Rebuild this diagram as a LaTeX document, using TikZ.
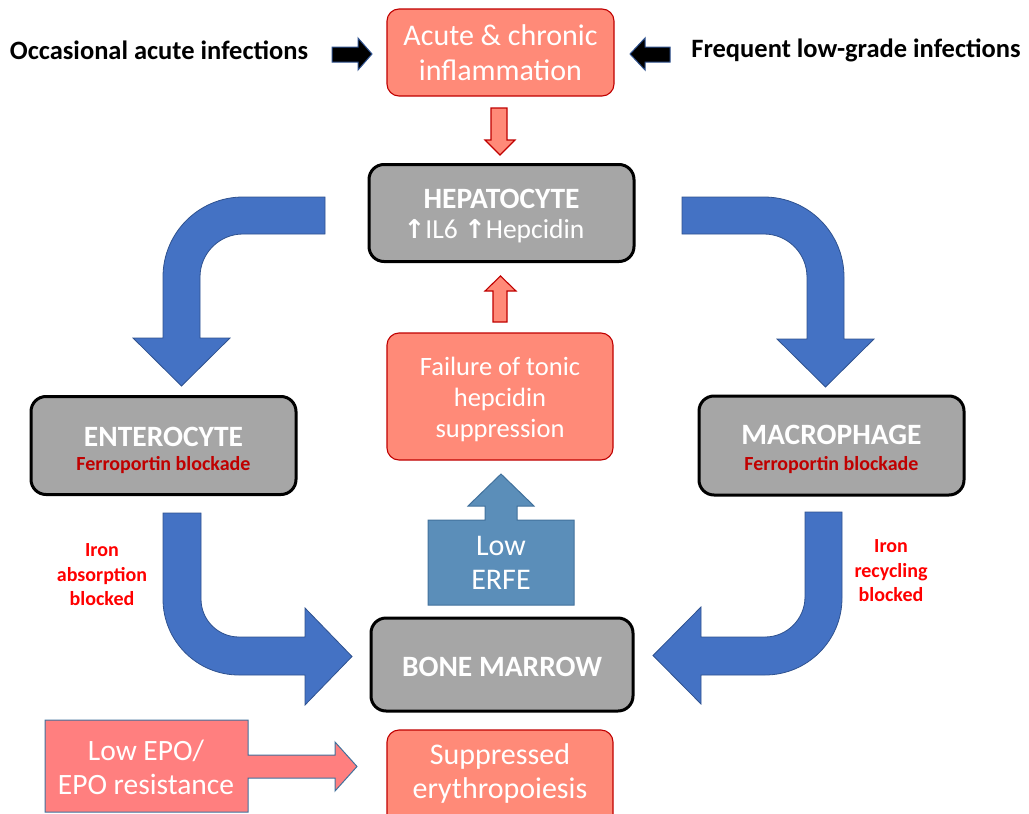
\documentclass[tikz,border=0pt]{standalone}
\usepackage{fontspec}
\setmainfont{Carlito}
\newfontfamily\djv{DejaVu Sans}
\definecolor{salmon}{HTML}{FF8A78}
\definecolor{salmonedge}{HTML}{C00000}
\definecolor{pinkfill}{HTML}{FF7F7F}
\definecolor{grayfill}{HTML}{A6A6A6}
\definecolor{bluefill}{HTML}{4472C4}
\definecolor{blueedge}{HTML}{2F528F}
\definecolor{steelfill}{HTML}{5B8EB9}
\definecolor{steeledge}{HTML}{41719C}
\definecolor{darkred}{HTML}{C00000}
\definecolor{brightred}{HTML}{FF0000}
\tikzset{
  salmonbox/.style={rounded corners=12pt, fill=salmon, draw=salmonedge, line width=1.1pt,
    text=white, align=center, font=\fontsize{30}{35}\selectfont, inner sep=0pt},
  graybox/.style={rounded corners=15pt, fill=grayfill, draw=black, line width=3pt,
    text=white, align=center, inner sep=0pt},
  bigarrow/.style={fill=bluefill, draw=blueedge, line width=0.8pt},
  blackarrow/.style={fill=black, draw=blueedge, line width=1pt},
  redarrow/.style={fill=salmon, draw=salmonedge, line width=1.1pt},
  sidelabel/.style={font=\bfseries\fontsize{26.5}{30}\selectfont, text=black},
  ironlabel/.style={font=\bfseries\fontsize{20}{24.5}\selectfont, text=brightred, align=center},
  subtitle/.style={font=\bfseries\fontsize{20}{24}\selectfont, text=darkred},
  title/.style={font=\bfseries\fontsize{29.5}{34}\selectfont, text=white},
  whitetext/.style={text=white, align=center, font=\fontsize{30}{34}\selectfont}
}
\begin{document}
\begin{tikzpicture}[x=1pt,y=-1pt]
\useasboundingbox (0,0) rectangle (1029,814);
\clip (0,0) rectangle (1029,814);

% top row
\node[salmonbox, minimum width=227pt, minimum height=87pt] (inflam) at (500.5,52.5)
  {Acute \& chronic\\inflammation};
\node[sidelabel] (occ) at (159,50) {Occasional acute infections};
\node[sidelabel] (freq) at (856,50) {Frequent low-grade infections};
\draw[blackarrow] (332,47) -- (358,47) -- (358,38) -- (372,54) -- (358,70) -- (358,62) -- (332,62) -- cycle;
\draw[blackarrow] (670,47) -- (645,47) -- (645,38) -- (630,54) -- (645,70) -- (645,62) -- (670,62) -- cycle;

% red down arrow
\draw[redarrow] (491,108) -- (507,108) -- (507,140) -- (515,140) -- (500,155) -- (485,140) -- (491,140) -- cycle;

% hepatocyte
\node[graybox, minimum width=265pt, minimum height=97pt] (hep) at (501.5,213) {};
\node[title] (hept) at (501.5,199) {HEPATOCYTE};
\node[text=white, font=\fontsize{27.5}{32}\selectfont] (hepl) at (494,231)
  {{\djv\bfseries\fontsize{26}{32}\selectfont ↑}IL6 {\djv\bfseries\fontsize{26}{32}\selectfont ↑}Hepcidin};

% red up arrow
\draw[redarrow] (493,322) -- (507,322) -- (507,291) -- (516,291) -- (500.5,276) -- (485,291) -- (493,291) -- cycle;

% failure box
\node[salmonbox, minimum width=226pt, minimum height=127pt] (fail) at (500,396.5) {};
\node[whitetext, font=\fontsize{26.5}{31}\selectfont] (failt) at (500,399)
  {Failure of tonic\\hepcidin\\suppression};

% ERFE
\draw[fill=steelfill, draw=steeledge, line width=1pt] (428,605) -- (428,520) -- (485,520) -- (485,506) -- (468,506) -- (501,474) -- (534,506) -- (517,506) -- (517,520) -- (574,520) -- (574,605) -- cycle;
\node[whitetext] (erfe) at (501,563) {Low\\ERFE};

% enterocyte, macrophage
\node[graybox, minimum width=265pt, minimum height=98pt] (ent) at (163.5,445.5) {};
\node[title] (entt) at (163.5,437) {ENTEROCYTE};
\node[subtitle] (ents) at (163.5,465) {Ferroportin blockade};
\node[graybox, minimum width=265pt, minimum height=99pt] (mac) at (831.5,445.5) {};
\node[title] (mact) at (831.5,435) {MACROPHAGE};
\node[subtitle] (macs) at (831.5,465) {Ferroportin blockade};

\node[ironlabel] (ironabs) at (102,575) {Iron\\absorption\\blocked};
\node[ironlabel] (ironrec) at (891,571) {Iron\\recycling\\blocked};

% bone marrow
\node[graybox, minimum width=262pt, minimum height=93pt] (bm) at (502,664.5) {};
\node[title] (bmt) at (502,667) {BONE MARROW};

% suppressed
\node[salmonbox, minimum width=226pt, minimum height=100pt] (supp) at (500,780) {};
\node[whitetext] (suppt) at (500,773) {Suppressed\\erythropoiesis};

% low EPO
\draw[fill=pinkfill, draw=steeledge, line width=1pt] (45,720) -- (248,720) -- (248,755) -- (335,755) -- (335,742) -- (357,766.5) -- (335,791) -- (335,778) -- (248,778) -- (248,812) -- (45,812) -- cycle;
\node[whitetext, font=\fontsize{29.5}{34}\selectfont] (epo) at (146,767) {Low EPO/\\EPO resistance};

% big blue curved arrows
\draw[bigarrow] (325,197) -- (243,197) .. controls (198.8,197) and (163,232.8) .. (163,277)
  -- (163,338) -- (133,338) -- (181.5,386) -- (230,338) -- (200,338) -- (200,277)
  .. controls (200,253.3) and (219.3,234) .. (243,234) -- (325,234) -- cycle;
\draw[bigarrow] (682,197) -- (764,197) .. controls (808.2,197) and (844,232.8) .. (844,277)
  -- (844,339) -- (874,339) -- (825.5,387) -- (777,339) -- (807,339) -- (807,277)
  .. controls (807,253.3) and (787.7,234) .. (764,234) -- (682,234) -- cycle;
\draw[bigarrow] (163,513) -- (163,599) .. controls (163,641) and (197,675) .. (239,675)
  -- (305,675) -- (305,705) -- (352,656.5) -- (305,608) -- (305,637) -- (239,637)
  .. controls (218,637) and (201,620) .. (201,599) -- (201,513) -- cycle;
\draw[bigarrow] (842,512) -- (842,598) .. controls (842,640.5) and (807.5,675) .. (765,675)
  -- (701,675) -- (701,704) -- (653,655.5) -- (701,607) -- (701,637) -- (765,637)
  .. controls (787,637) and (805,619) .. (805,597) -- (805,512) -- cycle;
\end{tikzpicture}
\end{document}
